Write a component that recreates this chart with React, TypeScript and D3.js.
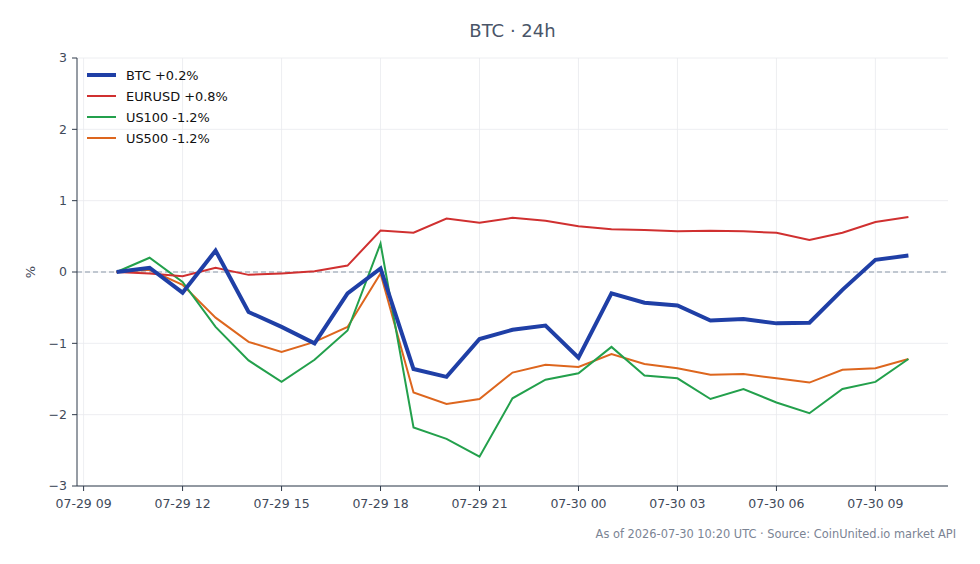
import React from "react";
import * as d3 from "d3";

// Hourly % change since 07-29 10:00 UTC
const hours: string[] = [
  "2026-07-29T10:00Z", "2026-07-29T11:00Z", "2026-07-29T12:00Z", "2026-07-29T13:00Z",
  "2026-07-29T14:00Z", "2026-07-29T15:00Z", "2026-07-29T16:00Z", "2026-07-29T17:00Z",
  "2026-07-29T18:00Z", "2026-07-29T19:00Z", "2026-07-29T20:00Z", "2026-07-29T21:00Z",
  "2026-07-29T22:00Z", "2026-07-29T23:00Z", "2026-07-30T00:00Z", "2026-07-30T01:00Z",
  "2026-07-30T02:00Z", "2026-07-30T03:00Z", "2026-07-30T04:00Z", "2026-07-30T05:00Z",
  "2026-07-30T06:00Z", "2026-07-30T07:00Z", "2026-07-30T08:00Z", "2026-07-30T09:00Z",
  "2026-07-30T10:00Z",
];

const btc: number[] = [0, 0.06, -0.29, 0.3, -0.56, -0.77, -1.0, -0.3, 0.05, -1.36, -1.47, -0.94, -0.81,
  -0.75, -1.2, -0.3, -0.43, -0.47, -0.68, -0.66, -0.72, -0.71, -0.25, 0.17, 0.23];
const eurusd: number[] = [0, -0.02, -0.06, 0.06, -0.04, -0.02, 0.01, 0.09, 0.58, 0.55, 0.75, 0.69, 0.76,
  0.72, 0.64, 0.6, 0.59, 0.57, 0.58, 0.57, 0.55, 0.45, 0.55, 0.7, 0.77];
const us100: number[] = [0, 0.2, -0.14, -0.77, -1.24, -1.54, -1.23, -0.82, 0.4, -2.18, -2.34, -2.59, -1.77,
  -1.51, -1.42, -1.05, -1.45, -1.49, -1.78, -1.64, -1.83, -1.98, -1.64, -1.54, -1.22];
const us500: number[] = [0, 0.03, -0.18, -0.64, -0.98, -1.12, -0.98, -0.77, -0.02, -1.69, -1.85, -1.78, -1.41,
  -1.3, -1.33, -1.15, -1.29, -1.35, -1.44, -1.43, -1.49, -1.55, -1.37, -1.35, -1.22];

const seriesNames: string[] = ["BTC +0.2%", "EURUSD +0.8%", "US100 -1.2%", "US500 -1.2%"];
const seriesColors: string[] = ["#1f3fa6", "#d03030", "#23a04c", "#dd661e"];
const seriesWidths: number[] = [4, 2, 2, 2];

const yTicks: number[] = [-3, -2, -1, 0, 1, 2, 3];
const xTickTimes: string[] = [
  "2026-07-29T09:00Z", "2026-07-29T12:00Z", "2026-07-29T15:00Z", "2026-07-29T18:00Z",
  "2026-07-29T21:00Z", "2026-07-30T00:00Z", "2026-07-30T03:00Z", "2026-07-30T06:00Z",
  "2026-07-30T09:00Z",
];

const title = "BTC · 24h";
const footer = "As of 2026-07-30 10:20 UTC · Source: CoinUnited.io market API";

const W = 980;
const H = 564;
const M = { left: 77, right: 948, top: 58, bottom: 486 };
const FONT = "'DejaVu Sans', sans-serif";
const TEXT = "#3f4a5a";

export default function App() {
  const times = hours.map((h) => new Date(h));
  const t0 = times[0].getTime();
  const t1 = times[times.length - 1].getTime();
  const pad = (t1 - t0) * 0.05;
  const x = d3.scaleUtc().domain([new Date(t0 - pad), new Date(t1 + pad)]).range([M.left, M.right]);
  const y = d3.scaleLinear().domain([-3, 3]).range([M.bottom, M.top]);
  const fmt = d3.utcFormat("%m-%d %H");

  const all = [btc, eurusd, us100, us500];
  const line = d3
    .line<number>()
    .x((_, i) => x(times[i]))
    .y((v) => y(v));

  const xTicks = xTickTimes.map((t) => new Date(t));
  const order = [3, 2, 1, 0];

  return (
    <svg width={W} height={H} style={{ position: "absolute", left: 0, top: 0, background: "#fff" }}
      fontFamily={FONT}>
      <text x={(M.left + M.right) / 2} y={37} textAnchor="middle" fontSize={18} fill="#4a5568">
        {title}
      </text>

      {/* grid */}
      {yTicks.map((t) => (
        <line key={"gy" + t} x1={M.left} x2={M.right} y1={y(t)} y2={y(t)} stroke="#e8eaee" strokeWidth={0.8} />
      ))}
      {xTicks.map((t, i) => (
        <line key={"gx" + i} x1={x(t)} x2={x(t)} y1={M.top} y2={M.bottom} stroke="#e8eaee" strokeWidth={0.8} />
      ))}

      {/* zero reference */}
      <line x1={M.left} x2={M.right} y1={y(0)} y2={y(0)} stroke="#8a97a8" strokeWidth={1} strokeDasharray="5,3" />

      {/* series */}
      {order.map((k) => (
        <path key={"s" + k} d={line(all[k]) || ""} fill="none" stroke={seriesColors[k]}
          strokeWidth={seriesWidths[k]} strokeLinejoin="miter" strokeLinecap="butt" />
      ))}

      {/* axes */}
      <line x1={M.left} x2={M.left} y1={M.top} y2={M.bottom} stroke="#2f3a4a" strokeWidth={1} />
      <line x1={M.left} x2={M.right} y1={M.bottom} y2={M.bottom} stroke="#2f3a4a" strokeWidth={1} />
      {yTicks.map((t) => (
        <g key={"yt" + t}>
          <line x1={M.left - 5} x2={M.left} y1={y(t)} y2={y(t)} stroke="#2f3a4a" />
          <text x={M.left - 10} y={y(t)} dy="0.35em" textAnchor="end" fontSize={12.5} fill={TEXT}>
            {t < 0 ? "\u2212" + Math.abs(t) : String(t)}
          </text>
        </g>
      ))}
      {xTicks.map((t, i) => (
        <g key={"xt" + i}>
          <line x1={x(t)} x2={x(t)} y1={M.bottom} y2={M.bottom + 5} stroke="#2f3a4a" />
          <text x={x(t)} y={M.bottom + 22} textAnchor="middle" fontSize={12.5} fill={TEXT}>
            {fmt(t)}
          </text>
        </g>
      ))}
      <text transform={`translate(35,${y(0)}) rotate(-90)`} textAnchor="middle" fontSize={13} fill={TEXT}>
        %
      </text>

      {/* legend */}
      {seriesNames.map((n, i) => {
        const ly = 75 + i * 21;
        return (
          <g key={"lg" + i}>
            <line x1={87} x2={116} y1={ly} y2={ly} stroke={seriesColors[i]} strokeWidth={seriesWidths[i]} />
            <text x={126} y={ly} dy="0.35em" fontSize={12.9} fill="#111">
              {n}
            </text>
          </g>
        );
      })}

      <text x={956} y={538} textAnchor="end" fontSize={11.4} fill="#7b8494">
        {footer}
      </text>
    </svg>
  );
}
